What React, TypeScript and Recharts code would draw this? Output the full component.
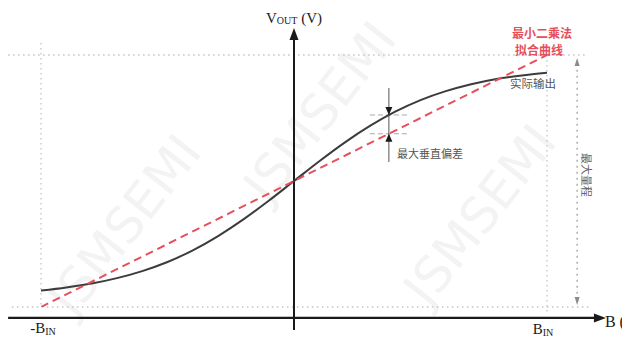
import React from 'react';
import { ComposedChart, Line, XAxis, YAxis, ReferenceLine, ReferenceDot } from 'recharts';

// Normalised field strength (−B_IN … +B_IN mapped to −1 … 1)
const B_SAMPLES = [-1, -0.9, -0.8, -0.7, -0.6, -0.5, -0.4, -0.3, -0.2, -0.1, 0, 0.1, 0.2, 0.3, 0.4, 0.5, 0.6, 0.7, 0.8, 0.9, 1];
// Real sensor output (normalised to full range)
const ACTUAL_OUTPUT = [-0.87, -0.845, -0.814, -0.771, -0.715, -0.643, -0.55, -0.437, -0.305, -0.157, 0, 0.157, 0.305, 0.437, 0.55, 0.642, 0.713, 0.768, 0.81, 0.838, 0.86];
// Least-squares straight-line fit
const FIT_B = [-1, 1];
const FIT_OUTPUT = [-1, 1];

// Largest vertical deviation between the two
const DEV_B = 0.375;
const DEV_ACTUAL = 0.524;
const DEV_FIT = 0.375;

const actualData = B_SAMPLES.map((b, i) => ({ b, v: ACTUAL_OUTPUT[i] }));
const fitData = FIT_B.map((b, i) => ({ b, v: FIT_OUTPUT[i] }));

const W = 622;
const H = 338;
const RED = '#e5505b';
const INK = '#1a1a1a';
const CURVE = '#3c3c3c';
const DOT_GRAY = '#c4c4c4';
const SERIF = '"Liberation Serif", "Times New Roman", serif';
const CJK = '"Noto Sans CJK SC", "Noto Sans", sans-serif';

type P = { cx?: number; cy?: number };

const tri = (dir: 'up' | 'down' | 'right', w: number, h: number, fill: string) => (p: P) => {
  const x = p.cx ?? 0;
  const y = p.cy ?? 0;
  let d = '';
  if (dir === 'up') d = `M${x},${y} L${x - w / 2},${y + h} L${x + w / 2},${y + h} Z`;
  if (dir === 'down') d = `M${x},${y} L${x - w / 2},${y - h} L${x + w / 2},${y - h} Z`;
  if (dir === 'right') d = `M${x},${y} L${x - h},${y - w / 2} L${x - h},${y + w / 2} Z`;
  return <path d={d} fill={fill} stroke="none" />;
};

const txt = (content: React.ReactNode, opts: { anchor?: 'start' | 'middle' | 'end'; size: number; fill: string; family: string; weight?: number; rotate?: number }) => (p: P) => {
  const x = p.cx ?? 0;
  const y = p.cy ?? 0;
  return (
    <text
      x={x}
      y={y}
      textAnchor={opts.anchor ?? 'middle'}
      dominantBaseline="central"
      fontSize={opts.size}
      fill={opts.fill}
      fontFamily={opts.family}
      fontWeight={opts.weight ?? 400}
      transform={opts.rotate ? `rotate(${opts.rotate} ${x} ${y})` : undefined}
    >
      {content}
    </text>
  );
};

// faint brand watermark across the drawing
const WATERMARKS = [
  { x: 125, y: 225 },
  { x: 320, y: 112 },
  { x: 480, y: 215 },
];

export default function App() {
  return (
    <div style={{ position: 'absolute', left: 0, top: 0, width: W, height: H, background: '#fff', overflow: 'hidden' }}>
      <svg width={W} height={H} style={{ position: 'absolute', left: 0, top: 0 }}>
        {WATERMARKS.map((m, i) => (
          <text
            key={i}
            x={m.x}
            y={m.y}
            textAnchor="middle"
            dominantBaseline="central"
            fontSize={50}
            fontFamily='"DejaVu Sans", sans-serif'
            fontWeight={400}
            fill="#f3f3f3"
            transform={`rotate(-52 ${m.x} ${m.y})`}
          >
            JSMSEMI
          </text>
        ))}
      </svg>
      <div style={{ position: 'absolute', left: 0, top: 0 }}>
        <ComposedChart width={W} height={H} margin={{ top: 55, right: 75, bottom: 31, left: 41 }}>
          <XAxis dataKey="b" type="number" domain={[-1, 1]} hide allowDataOverflow />
          <YAxis dataKey="v" type="number" domain={[-1, 1]} hide allowDataOverflow />

          {/* full-scale guide lines */}
          <ReferenceLine segment={[{ x: -1.13, y: 1 }, { x: 1.162, y: 1 }]} stroke={DOT_GRAY} strokeWidth={1.3} strokeDasharray="1.5 3.5" ifOverflow="visible" />
          <ReferenceLine segment={[{ x: -1.115, y: -1 }, { x: 1.17, y: -1 }]} stroke={DOT_GRAY} strokeWidth={1.3} strokeDasharray="1.5 3.5" ifOverflow="visible" />
          <ReferenceLine segment={[{ x: -1, y: 1.095 }, { x: -1, y: -1.008 }]} stroke={DOT_GRAY} strokeWidth={1.3} strokeDasharray="1.5 3.5" ifOverflow="visible" />
          <ReferenceLine segment={[{ x: 1, y: 1.079 }, { x: 1, y: -1.048 }]} stroke={DOT_GRAY} strokeWidth={1.3} strokeDasharray="1.5 3.5" ifOverflow="visible" />

          {/* full-range dimension arrow */}
          <ReferenceLine segment={[{ x: 1.119, y: 0.93 }, { x: 1.119, y: -0.93 }]} stroke="#9a9a9a" strokeWidth={1.2} strokeDasharray="2 4" ifOverflow="visible" />
          <ReferenceDot x={1.119} y={0.976} ifOverflow="visible" shape={tri('up', 5, 8, '#8a8a8a')} />
          <ReferenceDot x={1.119} y={-0.984} ifOverflow="visible" shape={tri('down', 5, 8, '#8a8a8a')} />

          {/* axes */}
          <ReferenceLine segment={[{ x: 0, y: -1.183 }, { x: 0, y: 1.14 }]} stroke={INK} strokeWidth={2} ifOverflow="visible" />
          <ReferenceDot x={0} y={1.214} ifOverflow="visible" shape={tri('up', 9, 12, INK)} />
          <ReferenceLine segment={[{ x: -1.13, y: -1.087 }, { x: 1.19, y: -1.087 }]} stroke={INK} strokeWidth={2.2} ifOverflow="visible" />
          <ReferenceDot x={1.233} y={-1.087} ifOverflow="visible" shape={tri('right', 9, 12, INK)} />

          {/* maximum deviation marker */}
          <ReferenceLine segment={[{ x: DEV_B - 0.075, y: DEV_ACTUAL }, { x: DEV_B + 0.072, y: DEV_ACTUAL }]} stroke="#a8a8a8" strokeWidth={1} strokeDasharray="5 3" ifOverflow="visible" />
          <ReferenceLine segment={[{ x: DEV_B - 0.075, y: DEV_FIT }, { x: DEV_B + 0.072, y: DEV_FIT }]} stroke="#a8a8a8" strokeWidth={1} strokeDasharray="5 3" ifOverflow="visible" />
          <ReferenceLine segment={[{ x: DEV_B, y: 0.738 }, { x: DEV_B, y: 0.151 }]} stroke="#555" strokeWidth={1} ifOverflow="visible" />
          <ReferenceDot x={DEV_B} y={DEV_ACTUAL} ifOverflow="visible" shape={tri('down', 7, 8, INK)} />
          <ReferenceDot x={DEV_B} y={DEV_FIT} ifOverflow="visible" shape={tri('up', 7, 8, INK)} />

          <Line data={actualData} dataKey="v" type="monotone" stroke={CURVE} strokeWidth={2} dot={false} isAnimationActive={false} />
          <Line data={fitData} dataKey="v" type="linear" stroke={RED} strokeWidth={2} strokeDasharray="8 5" dot={false} isAnimationActive={false} />

          {/* text */}
          <ReferenceDot x={0.98} y={1.175} ifOverflow="visible" shape={txt('最小二乘法', { size: 12, fill: RED, family: CJK, weight: 700 })} />
          <ReferenceDot x={0.968} y={1.04} ifOverflow="visible" shape={txt('拟合曲线', { size: 12, fill: RED, family: CJK, weight: 700 })} />
          <ReferenceDot x={0.854} y={0.778} ifOverflow="visible" shape={txt('实际输出', { anchor: 'start', size: 11.5, fill: '#555', family: CJK })} />
          <ReferenceDot x={0.407} y={0.222} ifOverflow="visible" shape={txt('最大垂直偏差', { anchor: 'start', size: 11, fill: '#555', family: CJK })} />
          <ReferenceDot x={1.158} y={0.048} ifOverflow="visible" shape={txt('最大量程', { size: 11, fill: '#666', family: CJK, rotate: 90 })} />
          <ReferenceDot
            x={0}
            y={1.294}
            ifOverflow="visible"
            shape={txt(
              <>
                <tspan fontSize={15}>V</tspan>
                <tspan fontSize={10} dy={2}>OUT</tspan>
                <tspan fontSize={15} dy={-2}> (V)</tspan>
              </>,
              { size: 15, fill: INK, family: SERIF }
            )}
          />
          <ReferenceDot
            x={-0.992}
            y={-1.167}
            ifOverflow="visible"
            shape={txt(
              <>
                <tspan fontSize={15}>-B</tspan>
                <tspan fontSize={10} dy={2.5}>IN</tspan>
              </>,
              { size: 15, fill: INK, family: SERIF }
            )}
          />
          <ReferenceDot
            x={0.984}
            y={-1.175}
            ifOverflow="visible"
            shape={txt(
              <>
                <tspan fontSize={15}>B</tspan>
                <tspan fontSize={10} dy={2.5}>IN</tspan>
              </>,
              { size: 15, fill: INK, family: SERIF }
            )}
          />
          <ReferenceDot x={1.229} y={-1.119} ifOverflow="visible" shape={txt('B (mT)', { anchor: 'start', size: 16, fill: INK, family: SERIF })} />
        </ComposedChart>
      </div>
    </div>
  );
}
